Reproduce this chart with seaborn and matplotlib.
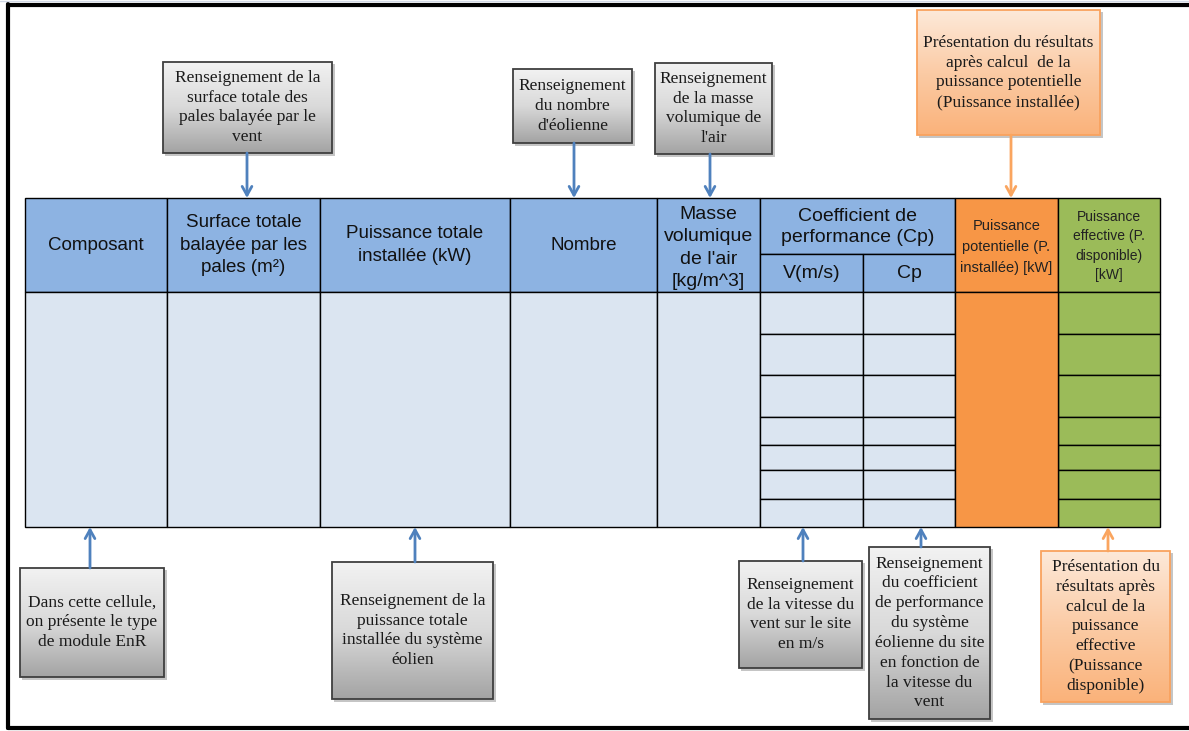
import numpy as np
import matplotlib
matplotlib.use("Agg")
import matplotlib.pyplot as plt
from matplotlib.patches import Rectangle
from matplotlib.colors import LinearSegmentedColormap
import seaborn as sns

# table headers
header_labels = ["Composant",
                 "Surface totale\nbalayée par les\npales (m²)",
                 "Puissance totale\ninstallée (kW)",
                 "Nombre",
                 "Masse\nvolumique\nde l'air\n[kg/m^3]"]
cp_group_label = "Coefficient de\nperformance (Cp)"
cp_sub_labels = ["V(m/s)", "Cp"]
result_labels = ["Puissance\npotentielle (P.\ninstallée) [kW]",
                 "Puissance\neffective (P.\ndisponible)\n[kW]"]

# callout texts
top_notes = ["Renseignement de la\nsurface totale des\npales balayée par le\nvent",
             "Renseignement\ndu nombre\nd'éolienne",
             "Renseignement\nde la masse\nvolumique de\nl'air",
             "Présentation du résultats\naprès calcul  de la\npuissance potentielle\n(Puissance installée)"]
bottom_notes = ["Dans cette cellule,\non présente le type\nde module EnR",
                "Renseignement de la\npuissance totale\ninstallée du système\néolien",
                "Renseignement\nde la vitesse du\nvent sur le site\nen m/s",
                "Renseignement\ndu coefficient\nde performance\ndu système\néolienne du site\nen fonction de\nla vitesse du\nvent",
                "Présentation du\nrésultats après\ncalcul de la\npuissance\neffective\n(Puissance\ndisponible)"]

# ---- layout (pixel coordinates) ----
col_edges = [25, 167, 320, 510, 657, 760, 863, 955, 1058, 1160]
tab_top, head_bot, cp_split, tab_bot = 198, 292, 254, 527
row_lines = [334, 375, 417, 445, 470, 499]

top_boxes = [(163, 62, 332, 153, 247), (513, 69, 632, 143, 574),
             (655, 63, 772, 154, 710), (917, 10, 1100, 135, 1011)]
top_kind = ["gray", "gray", "gray", "orange"]
bot_boxes = [(20, 568, 164, 677, 90), (332, 562, 493, 699, 415),
             (739, 561, 862, 668, 803), (869, 547, 990, 719, 921),
             (1041, 551, 1170, 702, 1108)]
bot_kind = ["gray", "gray", "gray", "gray", "orange"]

head_blue = "#8DB3E2"
body_blue = "#DBE5F1"
orange = "#F79646"
green = "#9BBB59"
arrow_blue = "#4F81BD"
arrow_orange = "#FAA55F"

sns.set_theme(style="white")
sans = ["Liberation Sans", "DejaVu Sans"]
serif = ["Liberation Serif", "DejaVu Serif"]

gray_cmap = LinearSegmentedColormap.from_list("g", ["#F2F2F2", "#D9D9D9", "#A3A3A3"])
orange_cmap = LinearSegmentedColormap.from_list("o", ["#FDE9D9", "#FBCBA5", "#FAB27A"])

fig = plt.figure(figsize=(11.89, 7.31), dpi=100)
ax = fig.add_axes([0, 0, 1, 1])


def cell(x0, y0, x1, y1, fc, lw=1.0):
    ax.add_patch(Rectangle((x0, y0), x1 - x0, y1 - y0, fc=fc, ec="black", lw=lw, zorder=2))


def note(box, text, kind, up):
    x0, y0, x1, y1, xa = box
    cmap = gray_cmap if kind == "gray" else orange_cmap
    edge = "#3F3F3F" if kind == "gray" else "#F9A25E"
    ax.add_patch(Rectangle((x0 + 2, y0 + 2), x1 - x0 + 1, y1 - y0 + 1, fc="#808080",
                           ec="none", alpha=0.45, zorder=3))
    grad = np.linspace(0, 1, 256).reshape(-1, 1)
    ax.imshow(grad, cmap=cmap, extent=(x0, x1, y1, y0), origin="upper",
              aspect="auto", zorder=4)
    ax.add_patch(Rectangle((x0, y0), x1 - x0, y1 - y0, fc="none", ec=edge, lw=1.3, zorder=5))
    ax.text((x0 + x1) / 2, (y0 + y1) / 2, text, ha="center", va="center",
            family=serif, fontsize=12.5, linespacing=1.32, color="#1a1a1a", zorder=6)
    color = arrow_blue if kind == "gray" else arrow_orange
    if up:
        start, end = y0, tab_bot
    else:
        start, end = y1, tab_top
    ax.annotate("", xy=(xa, end), xytext=(xa, start),
                arrowprops=dict(arrowstyle="->,head_length=0.45,head_width=0.25",
                                color=color, lw=2, shrinkA=0, shrinkB=0,
                                mutation_scale=14), zorder=6)


# header row
for i in range(5):
    cell(col_edges[i], tab_top, col_edges[i + 1], head_bot, head_blue)
cell(col_edges[5], tab_top, col_edges[7], cp_split, head_blue)
cell(col_edges[5], cp_split, col_edges[6], head_bot, head_blue)
cell(col_edges[6], cp_split, col_edges[7], head_bot, head_blue)
cell(col_edges[7], tab_top, col_edges[8], head_bot, orange)
cell(col_edges[8], tab_top, col_edges[9], head_bot, green)

# body
for i in range(5):
    cell(col_edges[i], head_bot, col_edges[i + 1], tab_bot, body_blue)
rows = [head_bot] + row_lines + [tab_bot]
for r in range(len(rows) - 1):
    cell(col_edges[5], rows[r], col_edges[6], rows[r + 1], body_blue)
    cell(col_edges[6], rows[r], col_edges[7], rows[r + 1], body_blue)
    cell(col_edges[8], rows[r], col_edges[9], rows[r + 1], green)
cell(col_edges[7], head_bot, col_edges[8], tab_bot, orange)

# header texts
hy = (tab_top + head_bot) / 2
sizes = [13.5, 13.5, 13.5, 13.5, 14]
for i, lab in enumerate(header_labels):
    ax.text((col_edges[i] + col_edges[i + 1]) / 2, hy + (3 if i == 4 else 0), lab,
            ha="center", va="center", family=sans, fontsize=sizes[i],
            linespacing=1.42, color="#111111", zorder=7)
ax.text((col_edges[5] + col_edges[7]) / 2, (tab_top + cp_split) / 2 + 1, cp_group_label,
        ha="center", va="center", family=sans, fontsize=14, linespacing=1.38,
        color="#111111", zorder=7)
for j, lab in enumerate(cp_sub_labels):
    ax.text((col_edges[5 + j] + col_edges[6 + j]) / 2, (cp_split + head_bot) / 2 + 1, lab,
            ha="center", va="center", family=sans, fontsize=14, color="#111111", zorder=7)
ax.text((col_edges[7] + col_edges[8]) / 2, hy + 2, result_labels[0], ha="center",
        va="center", family=sans, fontsize=10.5, linespacing=1.6, color="#222222", zorder=7)
ax.text((col_edges[8] + col_edges[9]) / 2, hy + 1, result_labels[1], ha="center",
        va="center", family=sans, fontsize=10, linespacing=1.5, color="#222222", zorder=7)

# callouts
for box, txt, kind in zip(top_boxes, top_notes, top_kind):
    note(box, txt, kind, up=False)
for box, txt, kind in zip(bot_boxes, bottom_notes, bot_kind):
    note(box, txt, kind, up=True)

# sheet frame
ax.plot([8, 8], [4, 728], color="black", lw=3, zorder=1)
ax.plot([8, 1189], [5, 5], color="black", lw=3, zorder=1)
ax.plot([8, 1189], [728, 728], color="black", lw=3, zorder=1)
ax.plot([0, 1189], [1, 1], color="#D0D7E5", lw=1, zorder=1)

ax.set_xlim(0, 1189)
ax.set_ylim(731, 0)
ax.axis("off")
fig.savefig("out.png", dpi=100, facecolor="white")
